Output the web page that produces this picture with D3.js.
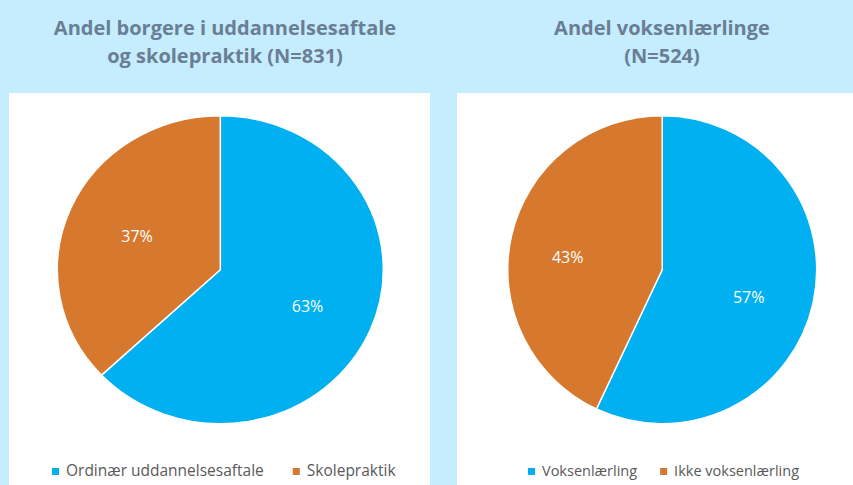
<!DOCTYPE html>
<html>
<head>
<meta charset="utf-8">
<script src="https://cdn.jsdelivr.net/npm/d3@7"></script>
<style>
  body { margin: 0; background: #c5edfd; }
  svg { display: block; }
</style>
</head>
<body>
<div id="chart"></div>
<script>
// data
const titles1 = ["Andel borgere i uddannelsesaftale", "og skolepraktik (N=831)"];
const categories1 = ["Ordinær uddannelsesaftale", "Skolepraktik"];
const values1 = [63, 37];

const titles2 = ["Andel voksenlærlinge", "(N=524)"];
const categories2 = ["Voksenlærling", "Ikke voksenlærling"];
const values2 = [57, 43];

const width = 853, height = 485;
const colors = ["#00b0f0", "#d6792f"];

const svg = d3.select('#chart')
    .append('svg')
    .attr('width', width)
    .attr('height', height);

svg.append('rect')
    .attr('width', width)
    .attr('height', height)
    .attr('fill', '#c5edfd');

function drawPanel(opts) {
    const g = svg.append('g');

    // white panel
    g.append('rect')
        .attr('x', opts.x0)
        .attr('y', 93)
        .attr('width', opts.x1 - opts.x0)
        .attr('height', height - 93)
        .attr('fill', '#fff');

    // title
    g.append('text')
        .attr('x', opts.titleX)
        .attr('text-anchor', 'middle')
        .style('font-family', 'Open Sans, sans-serif')
        .style('font-weight', 'bold')
        .style('font-size', '20px')
        .attr('fill', '#6a7e95')
        .selectAll('tspan')
        .data(opts.titles)
        .join('tspan')
        .attr('x', opts.titleX)
        .attr('y', (d, i) => 35 + i * 28)
        .text(d => d);

    const color = d3.scaleOrdinal()
        .domain(opts.categories)
        .range(colors);

    const pie = d3.pie().sort(null).value(d => d.value);
    const arcs = pie(opts.categories.map((c, i) => ({ key: c, value: opts.values[i] })));

    const r = 154;
    const arc = d3.arc().innerRadius(0).outerRadius(r);
    const labelArc = d3.arc().innerRadius(r * opts.k).outerRadius(r * opts.k);

    const pieG = g.append('g')
        .attr('transform', `translate(${opts.cx},${opts.cy}) scale(${opts.sx},1)`);

    pieG.selectAll('path')
        .data(arcs)
        .join('path')
        .attr('d', arc)
        .attr('fill', d => color(d.data.key))
        .attr('stroke', '#fff')
        .attr('stroke-width', 1.5)
        .attr('vector-effect', 'non-scaling-stroke');

    // labels (outside the scaled group so text isn't stretched)
    g.selectAll('text.lbl')
        .data(arcs)
        .join('text')
        .attr('class', 'lbl')
        .attr('x', d => opts.cx + opts.lx + labelArc.centroid(d)[0] * opts.sx)
        .attr('y', d => opts.cy + opts.ly + labelArc.centroid(d)[1])
        .attr('text-anchor', 'middle')
        .attr('dy', '0.35em')
        .attr('fill', '#fff')
        .style('font-family', 'Open Sans, sans-serif')
        .style('font-size', '16px')
        .text(d => d.data.value + '%');

    // legend
    const legend = g.append('g');
    const items = legend.selectAll('g')
        .data(opts.categories)
        .join('g');
    items.append('rect')
        .attr('width', 7)
        .attr('height', 7)
        .attr('y', -8)
        .attr('fill', d => color(d));
    items.append('text')
        .attr('x', 14)
        .attr('fill', '#595959')
        .style('font-family', 'Open Sans, sans-serif')
        .style('font-size', opts.legendSize)
        .text(d => d);

    let offset = 0;
    items.each(function () {
        d3.select(this).attr('transform', `translate(${offset},0)`);
        offset += 14 + d3.select(this).select('text').node().getComputedTextLength() + opts.gap;
    });
    legend.attr('transform', `translate(${opts.legendX},476)`);
}

drawPanel({
    x0: 9, x1: 430, cx: 220.3, cy: 269.7, sx: 163 / 154,
    k: 0.57, lx: 2, ly: 2,
    titleX: 225, legendX: 52, legendSize: '15.5px', gap: 29,
    titles: titles1, categories: categories1, values: values1
});

drawPanel({
    x0: 457, x1: 853, cx: 662.2, cy: 269.7, sx: 154.5 / 154,
    k: 0.6, lx: -4, ly: 8,
    titleX: 662, legendX: 528, legendSize: '14.5px', gap: 23,
    titles: titles2, categories: categories2, values: values2
});
</script>
</body>
</html>
